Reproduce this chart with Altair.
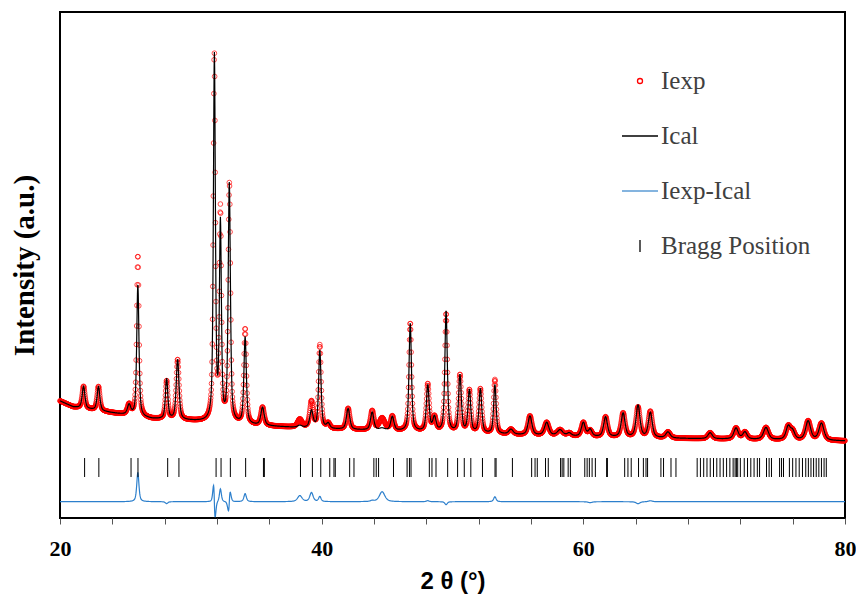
import numpy as np
import pandas as pd
import altair as alt

# ---- values ----
# reflections of the refined pattern: 2-theta (deg), FWHM (deg), calculated and observed heights (a.u. above background)
peak_pos = [21.80, 22.94, 25.28, 25.95, 28.15, 28.99, 31.80, 32.26, 32.94, 34.15, 35.48,
            38.33, 39.22, 39.86, 40.50, 42.02, 43.86, 44.62, 45.40, 46.77, 48.11, 48.62,
            49.51, 50.57, 51.29, 52.13, 53.24, 54.47, 55.92, 57.20, 58.22, 58.92, 60.00,
            60.52, 61.70, 63.04, 64.18, 65.12, 66.47, 69.69, 71.67, 72.35, 73.96, 75.66,
            76.00, 77.18, 78.20]
peak_fwhm = [0.25, 0.25, 0.30, 0.20, 0.22, 0.25, 0.18, 0.18, 0.20, 0.22, 0.30,
             0.40, 0.30, 0.22, 0.30, 0.30, 0.30, 0.50, 0.30, 0.22, 0.25, 0.30,
             0.22, 0.25, 0.25, 0.25, 0.22, 0.40, 0.35, 0.40, 0.50, 0.40, 0.35,
             0.35, 0.35, 0.35, 0.35, 0.35, 0.40, 0.40, 0.40, 0.40, 0.45, 0.40,
             0.40, 0.45, 0.45]
ical_height = [22, 24, 10, 132, 40, 60, 365, 195, 238, 87, 18,
               2, 17, 78, 5, 21, 18, 2, 14, 108, 46, 14,
               121, 57, 42, 44, 49, 5, 19, 13, 6, 3, 14,
               7, 20, 24, 32, 25, 6, 6, 11, 7, 12, 13,
               8, 19, 17]
iexp_height = [22, 24, 10, 161, 38, 60, 365, 208, 238, 95, 18,
               8, 26, 83, 5, 21, 19, 12, 14, 108, 47, 14,
               118, 57, 42, 44, 54, 5, 19, 13, 6, 3, 14,
               6, 20, 24, 30, 26, 6, 6, 11, 7, 12, 13,
               8, 19, 17]
iexp_pos = [21.80, 22.94, 25.28, 25.95, 28.15, 28.99, 31.794, 32.26, 32.946, 34.15, 35.48,
            38.33, 39.22, 39.86, 40.50, 42.02, 43.86, 44.62, 45.40, 46.77, 48.11, 48.62,
            49.51, 50.57, 51.29, 52.13, 53.24, 54.47, 55.92, 57.20, 58.22, 58.92, 60.00,
            60.52, 61.70, 63.04, 64.18, 65.12, 66.47, 69.69, 71.67, 72.35, 73.96, 75.66,
            76.00, 77.18, 78.20]
# background level read along the baseline
bg_2theta = [20, 21, 23, 25, 27, 30, 34, 37, 40, 45, 50, 55, 60, 70, 80]
bg_level = [115, 109, 105, 101, 97, 95, 91, 89, 87, 85, 83, 81, 79, 77, 75]

# Bragg reflection positions (2-theta, deg)
bragg_pos = [21.88, 22.97, 25.43, 25.96, 28.23, 29.09, 31.93, 32.31, 33.02, 34.19, 35.55, 35.62,
             38.38, 39.29, 39.93, 40.62, 40.94, 41.04, 42.14, 42.47, 43.99, 44.17, 44.35,
             45.49, 46.53, 46.71, 46.83, 48.23, 48.43, 48.74, 49.63, 50.39, 50.90, 51.40,
             52.29, 53.25, 53.33, 54.58, 56.05, 56.31, 56.48, 57.11, 57.32, 58.26, 58.38,
             58.51, 58.84, 59.01, 60.11, 60.29, 60.46, 60.67, 60.92, 61.78, 61.84, 63.16,
             63.41, 63.66, 64.22, 64.59, 64.79, 64.91, 65.93, 66.13, 66.70, 67.08, 68.70,
             68.95, 69.20, 69.45, 69.70, 69.95, 70.20, 70.45, 70.70, 70.95, 71.20, 71.45,
             71.60, 71.70, 71.80, 72.00, 72.30, 72.55, 72.80, 73.05, 73.30, 73.47, 74.00,
             74.20, 74.38, 75.00, 75.15, 75.30, 75.75, 76.00, 76.25, 76.50, 76.75, 77.00,
             77.20, 77.40, 77.60, 77.80, 78.00, 78.20, 78.40, 78.57]

legend_labels = ["Iexp", "Ical", "Iexp-Ical", "Bragg Position"]
diff_offset = 14.3

# ---- profile built from the peak table (pseudo-Voigt shapes) ----
tt = np.round(np.arange(20.0, 80.0001, 0.02), 2)
bg = np.interp(tt, bg_2theta, bg_level)


def profile(pos, hts):
    y = np.zeros_like(tt)
    for p, w, h in zip(pos, peak_fwhm, hts):
        d = (tt - p) / w
        lor = 1.0 / (1.0 + 4.0 * d * d)
        gau = np.exp(-4.0 * np.log(2.0) * d * d)
        y += h * (0.6 * lor + 0.4 * gau)
    return y


ical = bg + profile(peak_pos, ical_height)
iexp = bg + profile(iexp_pos, iexp_height)
diff = iexp - ical + diff_offset

df = pd.DataFrame({"tt": tt, "Iexp": iexp, "Ical": ical, "diff": diff})
bragg_df = pd.DataFrame({"tt": bragg_pos})
legend_df = pd.DataFrame({"series": legend_labels})

xscale = alt.Scale(domain=[20, 80], nice=False, zero=False)
yscale = alt.Scale(domain=[-2, 504], nice=False, zero=False)

xaxis = alt.Axis(
    values=list(range(20, 81, 2)),
    labelExpr="datum.value % 10 === 0 ? datum.label : ''",
    labelOverlap=False, labelFlush=False,
    grid=False, domain=False,
    tickSize=6, tickColor="#555555", tickWidth=1,
    labelFont="Liberation Serif", labelFontSize=22, labelFontWeight="bold",
    labelColor="#000000", labelPadding=14,
    title="2 θ (°)", titleFont="Liberation Sans", titleFontSize=24,
    titleFontWeight="bold", titleColor="#000000", titlePadding=10,
)
yaxis = alt.Axis(
    labels=False, ticks=False, domain=False, grid=False,
    title="Intensity (a.u.)", titleFont="Liberation Serif", titleFontSize=29,
    titleFontWeight="bold", titleColor="#000000", titlePadding=21,
)

base = alt.Chart(df)

pts = base.mark_point(shape="circle", filled=False, color="#FF0000",
                      size=22, strokeWidth=1).encode(
    x=alt.X("tt:Q", scale=xscale, axis=xaxis),
    y=alt.Y("Iexp:Q", scale=yscale, axis=yaxis),
)
calc = base.mark_line(color="#000000", strokeWidth=1.2).encode(
    x=alt.X("tt:Q", scale=xscale),
    y=alt.Y("Ical:Q", scale=yscale),
)
dline = base.mark_line(color="#2C7FCC", strokeWidth=1.2).encode(
    x=alt.X("tt:Q", scale=xscale),
    y=alt.Y("diff:Q", scale=yscale),
)
bragg = alt.Chart(bragg_df).mark_rule(color="#000000", strokeWidth=1).encode(
    x=alt.X("tt:Q", scale=xscale),
    y=alt.datum(39, scale=yscale),
    y2=alt.datum(58),
)

circle_path = "M-0.14,0A0.14,0.14,0,1,1,0.14,0A0.14,0.14,0,1,1,-0.14,0Z"
hline_path = "M-1,0L1,0"
vtick_path = "M0,-0.34L0,0.34"

legend_cfg = dict(title=None, orient="none", legendX=561, legendY=50,
                  labelFont="Liberation Serif", labelFontSize=25,
                  labelColor="#404040", labelOffset=2,
                  symbolSize=1296, symbolStrokeWidth=1.3,
                  symbolOpacity=1, rowPadding=23, padding=0)

leg = alt.Chart(legend_df).mark_point(filled=False, opacity=0).encode(
    color=alt.Color("series:N",
                    scale=alt.Scale(domain=legend_labels,
                                    range=["#FF0000", "#000000", "#5B9BD5", "#000000"]),
                    legend=alt.Legend(**legend_cfg)),
    shape=alt.Shape("series:N",
                    scale=alt.Scale(domain=legend_labels,
                                    range=[circle_path, hline_path, hline_path, vtick_path]),
                    legend=alt.Legend(**legend_cfg)),
)

chart = alt.layer(pts, calc, dline, bragg, leg).properties(
    width=785, height=506,
    padding={"left": 52, "top": 4, "right": 11, "bottom": 78},
    autosize=alt.AutoSizeParams(type="none"),
    background="#FFFFFF",
).configure_view(stroke="#000000", strokeWidth=2)

chart.save("out.html", embed_options={"renderer": "svg", "actions": False})
